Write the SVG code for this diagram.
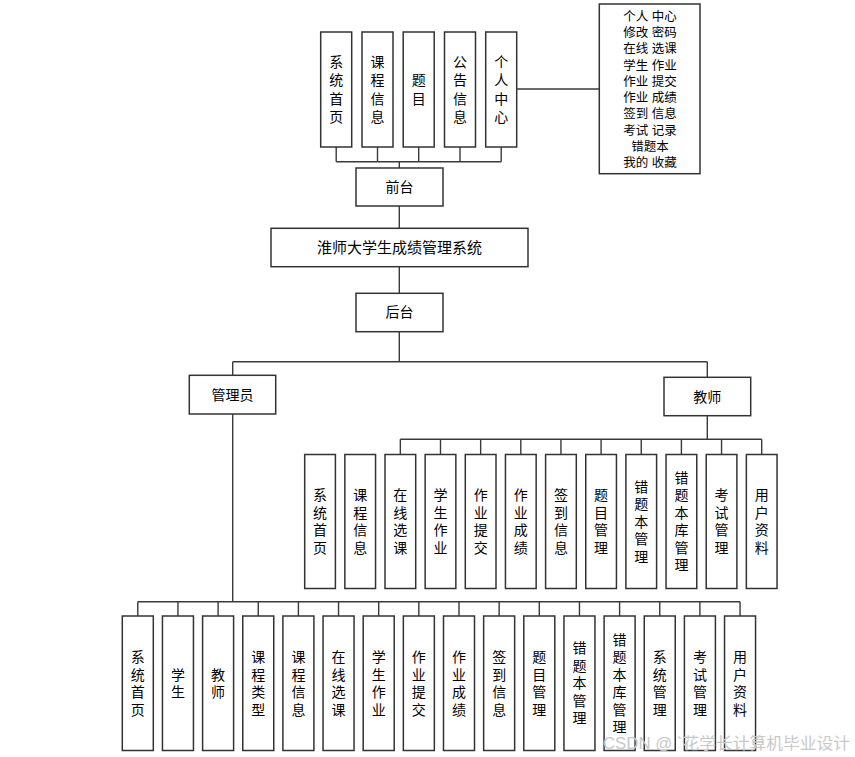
<svg xmlns="http://www.w3.org/2000/svg" width="855" height="757" viewBox="0 0 855 757">
<style>
.box{fill:#fff;stroke:#333;stroke-width:1.5}
.ln{fill:none;stroke:#3a3a3a;stroke-width:1.4}
.t{font-family:"Liberation Sans","Noto Sans CJK SC",sans-serif;font-size:14px;fill:#000;text-anchor:middle}
.s{font-family:"Liberation Sans","Noto Sans CJK SC",sans-serif;font-size:12.5px;fill:#000;text-anchor:middle}
.wm{font-family:"Liberation Sans","Noto Sans CJK SC",sans-serif;font-size:16px;fill:#c8c8c8}
</style>
<rect width="855" height="757" fill="#fff"/>
<g id="connectors">
<path class="ln" d="M336.2,147V161.7M377.5,147V161.7M418.7,147V161.7M460,147V161.7M501.2,147V161.7M336.2,161.7H501.2M399.3,161.7V168"/>
<path class="ln" d="M516.2,89H599.3"/>
<path class="ln" d="M399.3,206V228.3M399.3,266.7V293.3M399.3,331.7V361.7M232.7,361.7H707.3M232.7,361.7V375.3M707.3,361.7V377.3"/>
<path class="ln" d="M707.3,415.7V439.3M400.35,439.3H761.7M400.35,439.3V454.5M440.5,439.3V454.5M480.65,439.3V454.5M520.8,439.3V454.5M560.95,439.3V454.5M601.1,439.3V454.5M641.25,439.3V454.5M681.4,439.3V454.5M721.55,439.3V454.5M761.7,439.3V454.5"/>
<path class="ln" d="M232.7,414V601.7M137.8,601.7H740.05M137.8,601.7V616M177.95,601.7V616M218.1,601.7V616M258.25,601.7V616M298.4,601.7V616M338.55,601.7V616M378.7,601.7V616M418.85,601.7V616M459,601.7V616M499.15,601.7V616M539.3,601.7V616M579.45,601.7V616M619.6,601.7V616M659.75,601.7V616M699.9,601.7V616M740.05,601.7V616"/>
</g>
<g id="front-1"><rect class="box" x="320.7" y="32" width="31" height="115"/><text class="t"><tspan x="336.2" y="67">系</tspan><tspan x="336.2" dy="18.3">统</tspan><tspan x="336.2" dy="18.3">首</tspan><tspan x="336.2" dy="18.3">页</tspan></text></g>
<g id="front-2"><rect class="box" x="362" y="32" width="31" height="115"/><text class="t"><tspan x="377.5" y="67">课</tspan><tspan x="377.5" dy="18.3">程</tspan><tspan x="377.5" dy="18.3">信</tspan><tspan x="377.5" dy="18.3">息</tspan></text></g>
<g id="front-3"><rect class="box" x="403.2" y="32" width="31" height="115"/><text class="t"><tspan x="418.7" y="85.3">题</tspan><tspan x="418.7" dy="18.3">目</tspan></text></g>
<g id="front-4"><rect class="box" x="444.5" y="32" width="31" height="115"/><text class="t"><tspan x="460" y="67">公</tspan><tspan x="460" dy="18.3">告</tspan><tspan x="460" dy="18.3">信</tspan><tspan x="460" dy="18.3">息</tspan></text></g>
<g id="front-5"><rect class="box" x="485.7" y="32" width="31" height="115"/><text class="t"><tspan x="501.2" y="67">个</tspan><tspan x="501.2" dy="18.3">人</tspan><tspan x="501.2" dy="18.3">中</tspan><tspan x="501.2" dy="18.3">心</tspan></text></g>
<g id="personal-list"><rect class="box" x="599.3" y="4" width="100.7" height="169.7"/>
<text class="s"><tspan x="650" y="20.6">个人 中心</tspan><tspan x="650" dy="16.3">修改 密码</tspan><tspan x="650" dy="16.3">在线 选课</tspan><tspan x="650" dy="16.3">学生 作业</tspan><tspan x="650" dy="16.3">作业 提交</tspan><tspan x="650" dy="16.3">作业 成绩</tspan><tspan x="650" dy="16.3">签到 信息</tspan><tspan x="650" dy="16.3">考试 记录</tspan><tspan x="650" dy="16.3">错题本</tspan><tspan x="650" dy="16.3">我的 收藏</tspan></text></g>
<g id="qiantai"><rect class="box" x="356" y="168" width="87" height="38"/><text class="t" x="399.5" y="192">前台</text></g>
<g id="system"><rect class="box" x="271" y="228.3" width="257" height="38.4"/><text class="t" style="font-size:15px" x="399.5" y="253.3">淮师大学生成绩管理系统</text></g>
<g id="houtai"><rect class="box" x="356" y="293.3" width="87" height="38.4"/><text class="t" x="399.5" y="317">后台</text></g>
<g id="admin"><rect class="box" x="189.3" y="375.3" width="86.4" height="38.7"/><text class="t" x="232.5" y="400">管理员</text></g>
<g id="teacher"><rect class="box" x="664" y="377.3" width="86.7" height="38.4"/><text class="t" x="707.3" y="402">教师</text></g>
<g id="t1"><rect class="box" x="304.7" y="454.5" width="30.7" height="134"/><text class="t"><tspan x="320.05" y="500.2">系</tspan><tspan x="320.05" dy="17.5">统</tspan><tspan x="320.05" dy="17.5">首</tspan><tspan x="320.05" dy="17.5">页</tspan></text></g>
<g id="t2"><rect class="box" x="344.85" y="454.5" width="30.7" height="134"/><text class="t"><tspan x="360.2" y="500.2">课</tspan><tspan x="360.2" dy="17.5">程</tspan><tspan x="360.2" dy="17.5">信</tspan><tspan x="360.2" dy="17.5">息</tspan></text></g>
<g id="t3"><rect class="box" x="385" y="454.5" width="30.7" height="134"/><text class="t"><tspan x="400.35" y="500.2">在</tspan><tspan x="400.35" dy="17.5">线</tspan><tspan x="400.35" dy="17.5">选</tspan><tspan x="400.35" dy="17.5">课</tspan></text></g>
<g id="t4"><rect class="box" x="425.15" y="454.5" width="30.7" height="134"/><text class="t"><tspan x="440.5" y="500.2">学</tspan><tspan x="440.5" dy="17.5">生</tspan><tspan x="440.5" dy="17.5">作</tspan><tspan x="440.5" dy="17.5">业</tspan></text></g>
<g id="t5"><rect class="box" x="465.3" y="454.5" width="30.7" height="134"/><text class="t"><tspan x="480.65" y="500.2">作</tspan><tspan x="480.65" dy="17.5">业</tspan><tspan x="480.65" dy="17.5">提</tspan><tspan x="480.65" dy="17.5">交</tspan></text></g>
<g id="t6"><rect class="box" x="505.45" y="454.5" width="30.7" height="134"/><text class="t"><tspan x="520.8" y="500.2">作</tspan><tspan x="520.8" dy="17.5">业</tspan><tspan x="520.8" dy="17.5">成</tspan><tspan x="520.8" dy="17.5">绩</tspan></text></g>
<g id="t7"><rect class="box" x="545.6" y="454.5" width="30.7" height="134"/><text class="t"><tspan x="560.95" y="500.2">签</tspan><tspan x="560.95" dy="17.5">到</tspan><tspan x="560.95" dy="17.5">信</tspan><tspan x="560.95" dy="17.5">息</tspan></text></g>
<g id="t8"><rect class="box" x="585.75" y="454.5" width="30.7" height="134"/><text class="t"><tspan x="601.1" y="500.2">题</tspan><tspan x="601.1" dy="17.5">目</tspan><tspan x="601.1" dy="17.5">管</tspan><tspan x="601.1" dy="17.5">理</tspan></text></g>
<g id="t9"><rect class="box" x="625.9" y="454.5" width="30.7" height="134"/><text class="t"><tspan x="641.25" y="491.5">错</tspan><tspan x="641.25" dy="17.5">题</tspan><tspan x="641.25" dy="17.5">本</tspan><tspan x="641.25" dy="17.5">管</tspan><tspan x="641.25" dy="17.5">理</tspan></text></g>
<g id="t10"><rect class="box" x="666.05" y="454.5" width="30.7" height="134"/><text class="t"><tspan x="681.4" y="482.7">错</tspan><tspan x="681.4" dy="17.5">题</tspan><tspan x="681.4" dy="17.5">本</tspan><tspan x="681.4" dy="17.5">库</tspan><tspan x="681.4" dy="17.5">管</tspan><tspan x="681.4" dy="17.5">理</tspan></text></g>
<g id="t11"><rect class="box" x="706.2" y="454.5" width="30.7" height="134"/><text class="t"><tspan x="721.55" y="500.2">考</tspan><tspan x="721.55" dy="17.5">试</tspan><tspan x="721.55" dy="17.5">管</tspan><tspan x="721.55" dy="17.5">理</tspan></text></g>
<g id="t12"><rect class="box" x="746.35" y="454.5" width="30.7" height="134"/><text class="t"><tspan x="761.7" y="500.2">用</tspan><tspan x="761.7" dy="17.5">户</tspan><tspan x="761.7" dy="17.5">资</tspan><tspan x="761.7" dy="17.5">料</tspan></text></g>
<g id="a1"><rect class="box" x="122.3" y="616" width="31" height="134.5"/><text class="t"><tspan x="137.8" y="662">系</tspan><tspan x="137.8" dy="17.5">统</tspan><tspan x="137.8" dy="17.5">首</tspan><tspan x="137.8" dy="17.5">页</tspan></text></g>
<g id="a2"><rect class="box" x="162.45" y="616" width="31" height="134.5"/><text class="t"><tspan x="177.95" y="679.5">学</tspan><tspan x="177.95" dy="17.5">生</tspan></text></g>
<g id="a3"><rect class="box" x="202.6" y="616" width="31" height="134.5"/><text class="t"><tspan x="218.1" y="679.5">教</tspan><tspan x="218.1" dy="17.5">师</tspan></text></g>
<g id="a4"><rect class="box" x="242.75" y="616" width="31" height="134.5"/><text class="t"><tspan x="258.25" y="662">课</tspan><tspan x="258.25" dy="17.5">程</tspan><tspan x="258.25" dy="17.5">类</tspan><tspan x="258.25" dy="17.5">型</tspan></text></g>
<g id="a5"><rect class="box" x="282.9" y="616" width="31" height="134.5"/><text class="t"><tspan x="298.4" y="662">课</tspan><tspan x="298.4" dy="17.5">程</tspan><tspan x="298.4" dy="17.5">信</tspan><tspan x="298.4" dy="17.5">息</tspan></text></g>
<g id="a6"><rect class="box" x="323.05" y="616" width="31" height="134.5"/><text class="t"><tspan x="338.55" y="662">在</tspan><tspan x="338.55" dy="17.5">线</tspan><tspan x="338.55" dy="17.5">选</tspan><tspan x="338.55" dy="17.5">课</tspan></text></g>
<g id="a7"><rect class="box" x="363.2" y="616" width="31" height="134.5"/><text class="t"><tspan x="378.7" y="662">学</tspan><tspan x="378.7" dy="17.5">生</tspan><tspan x="378.7" dy="17.5">作</tspan><tspan x="378.7" dy="17.5">业</tspan></text></g>
<g id="a8"><rect class="box" x="403.35" y="616" width="31" height="134.5"/><text class="t"><tspan x="418.85" y="662">作</tspan><tspan x="418.85" dy="17.5">业</tspan><tspan x="418.85" dy="17.5">提</tspan><tspan x="418.85" dy="17.5">交</tspan></text></g>
<g id="a9"><rect class="box" x="443.5" y="616" width="31" height="134.5"/><text class="t"><tspan x="459" y="662">作</tspan><tspan x="459" dy="17.5">业</tspan><tspan x="459" dy="17.5">成</tspan><tspan x="459" dy="17.5">绩</tspan></text></g>
<g id="a10"><rect class="box" x="483.65" y="616" width="31" height="134.5"/><text class="t"><tspan x="499.15" y="662">签</tspan><tspan x="499.15" dy="17.5">到</tspan><tspan x="499.15" dy="17.5">信</tspan><tspan x="499.15" dy="17.5">息</tspan></text></g>
<g id="a11"><rect class="box" x="523.8" y="616" width="31" height="134.5"/><text class="t"><tspan x="539.3" y="662">题</tspan><tspan x="539.3" dy="17.5">目</tspan><tspan x="539.3" dy="17.5">管</tspan><tspan x="539.3" dy="17.5">理</tspan></text></g>
<g id="a12"><rect class="box" x="563.95" y="616" width="31" height="134.5"/><text class="t"><tspan x="579.45" y="653.3">错</tspan><tspan x="579.45" dy="17.5">题</tspan><tspan x="579.45" dy="17.5">本</tspan><tspan x="579.45" dy="17.5">管</tspan><tspan x="579.45" dy="17.5">理</tspan></text></g>
<g id="a13"><rect class="box" x="604.1" y="616" width="31" height="134.5"/><text class="t"><tspan x="619.6" y="644.5">错</tspan><tspan x="619.6" dy="17.5">题</tspan><tspan x="619.6" dy="17.5">本</tspan><tspan x="619.6" dy="17.5">库</tspan><tspan x="619.6" dy="17.5">管</tspan><tspan x="619.6" dy="17.5">理</tspan></text></g>
<g id="a14"><rect class="box" x="644.25" y="616" width="31" height="134.5"/><text class="t"><tspan x="659.75" y="662">系</tspan><tspan x="659.75" dy="17.5">统</tspan><tspan x="659.75" dy="17.5">管</tspan><tspan x="659.75" dy="17.5">理</tspan></text></g>
<g id="a15"><rect class="box" x="684.4" y="616" width="31" height="134.5"/><text class="t"><tspan x="699.9" y="662">考</tspan><tspan x="699.9" dy="17.5">试</tspan><tspan x="699.9" dy="17.5">管</tspan><tspan x="699.9" dy="17.5">理</tspan></text></g>
<g id="a16"><rect class="box" x="724.55" y="616" width="31" height="134.5"/><text class="t"><tspan x="740.05" y="662">用</tspan><tspan x="740.05" dy="17.5">户</tspan><tspan x="740.05" dy="17.5">资</tspan><tspan x="740.05" dy="17.5">料</tspan></text></g>
<g id="watermark"><text class="wm" x="603" y="749" textLength="247" lengthAdjust="spacingAndGlyphs">CSDN @ `花学长计算机毕业设计</text></g>
</svg>
